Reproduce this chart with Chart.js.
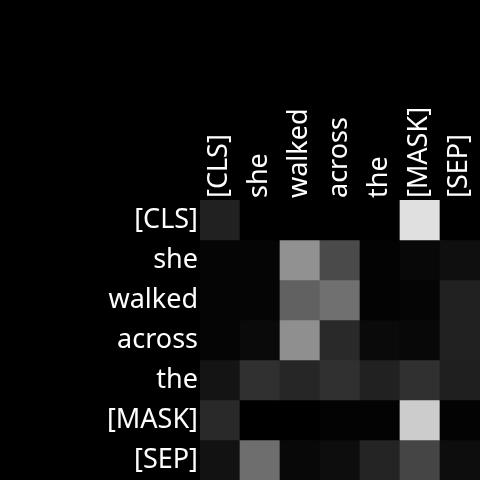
<!DOCTYPE html>
<html>
<head>
<meta charset="utf-8">
<script src="https://cdn.jsdelivr.net/npm/chart.js@4"></script>
<style>
  html, body { margin: 0; padding: 0; background: #000; }
  #wrap { width: 480px; height: 480px; }
</style>
</head>
<body>
<div id="wrap"><canvas id="heat"></canvas></div>
<script>
const tokens = ['[CLS]', 'she', 'walked', 'across', 'the', '[MASK]', '[SEP]']

// attention weights, one row per query token
const rowCls    = [0.13, 0.00, 0.00, 0.00, 0.00, 0.88, 0.00]
const rowShe    = [0.02, 0.02, 0.57, 0.29, 0.01, 0.03, 0.06]
const rowWalked = [0.02, 0.02, 0.38, 0.44, 0.01, 0.02, 0.13]
const rowAcross = [0.02, 0.04, 0.56, 0.16, 0.04, 0.03, 0.13]
const rowThe    = [0.08, 0.19, 0.15, 0.19, 0.13, 0.19, 0.12]
const rowMask   = [0.16, 0.00, 0.00, 0.01, 0.01, 0.80, 0.01]
const rowSep    = [0.07, 0.43, 0.03, 0.05, 0.14, 0.27, 0.05]

const rows = [rowCls, rowShe, rowWalked, rowAcross, rowThe, rowMask, rowSep]

function gray(v) {
  const g = Math.round(v * 255)
  return 'rgb(' + g + ',' + g + ',' + g + ')'
}

Chart.defaults.font.family = 'Noto Sans'
Chart.defaults.color = '#fff'

const datasets = rows.map((vals, r) => ({
  label: tokens[r],
  data: vals.map(() => [r, r + 1]),
  backgroundColor: vals.map(gray),
  borderWidth: 0,
  barPercentage: 1,
  categoryPercentage: 1
}))

new Chart(document.getElementById('heat'), {
  type: 'bar',
  data: { labels: tokens, datasets: datasets },
  options: {
    responsive: true,
    maintainAspectRatio: false,
    animation: false,
    layout: { padding: 0 },
    plugins: { legend: { display: false }, tooltip: { enabled: false } },
    scales: {
      x: {
        position: 'top',
        stacked: true,
        grid: { display: false, drawTicks: false },
        border: { display: false },
        ticks: { minRotation: 90, maxRotation: 90, padding: 2, labelOffset: 32, font: { size: 27 }, color: '#fff' },
        afterFit: (s) => { s.height = 200; s.paddingLeft = 0; s.paddingRight = 0 }
      },
      y: {
        type: 'linear',
        reverse: true,
        min: 0,
        max: 7,
        grid: { display: false, drawTicks: false },
        border: { display: false },
        afterBuildTicks: (s) => { s.ticks = tokens.map((_, i) => ({ value: i + 0.5 })) },
        ticks: {
          autoSkip: false,
          padding: 2,
          font: { size: 27 },
          color: '#fff',
          callback: (v) => tokens[Math.floor(v)]
        },
        afterFit: (s) => { s.width = 200; s.paddingTop = 0; s.paddingBottom = 0 }
      }
    }
  }
})
</script>
</body>
</html>
